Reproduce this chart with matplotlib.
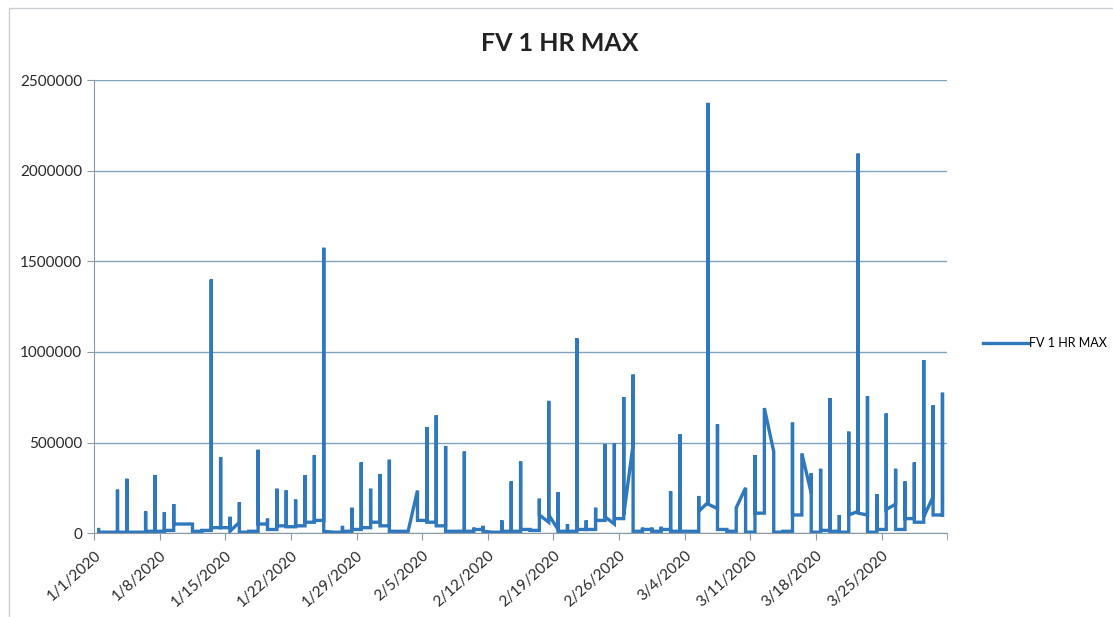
import numpy as np
import matplotlib
matplotlib.use("Agg")
import matplotlib.pyplot as plt
import matplotlib.dates as mdates
from matplotlib.patches import Rectangle

# daily readings (thousands): value entering the day, daily max, value leaving the day
start = "2020-01-01"
first_k = [20, 5, 5, 5, 5, 5, 10, 10, 15, 50, 50, 10, 15, 30, 30, 60, 5, 10, 50, 20,
           40, 35, 40, 60, 70, 5, 5, 10, 20, 30, 60, 40, 10, 10, 235, 70, 60, 40, 10, 10,
           10, 20, 5, 5, 10, 10, 20, 15, 60, 20, 10, 10, 20, 20, 70, 50, 80, 490, 10, 20,
           10, 20, 10, 10, 10, 170, 135, 20, 10, 250, 5, 110, 450, 5, 10, 100, 220, 5, 15, 10,
           5, 120, 100, 5, 20, 160, 20, 80, 60, 200, 100]
peak_k = [20, 5, 240, 300, 5, 120, 320, 115, 160, 50, 50, 10, 1400, 420, 90, 170, 5, 460, 80, 245,
          235, 185, 320, 430, 1575, 5, 40, 140, 390, 245, 325, 405, 15, 10, 235, 585, 650, 480, 10, 450,
          30, 40, 5, 70, 285, 395, 20, 190, 730, 225, 50, 1075, 70, 140, 490, 495, 750, 875, 30, 30,
          35, 230, 545, 10, 205, 2375, 600, 20, 140, 250, 430, 690, 450, 10, 610, 440, 330, 355, 745, 100,
          560, 2095, 755, 215, 660, 355, 285, 390, 955, 705, 775]
last_k = [5, 5, 5, 5, 5, 10, 10, 15, 50, 50, 10, 15, 30, 30, 10, 5, 10, 50, 20, 40,
          35, 40, 60, 70, 10, 5, 10, 20, 30, 60, 40, 10, 10, 10, 70, 60, 40, 10, 10, 10,
          20, 10, 5, 10, 10, 20, 15, 100, 100, 10, 10, 20, 20, 70, 90, 80, 100, 10, 20, 10,
          20, 10, 10, 10, 120, 160, 20, 10, 140, 5, 110, 690, 5, 10, 100, 440, 5, 15, 10, 5,
          100, 110, 5, 20, 130, 20, 80, 60, 90, 100, 100]

days = np.arange(np.datetime64(start), np.datetime64(start) + len(peak_k))
x, y = [], []
for d, a, p, b in zip(days, first_k, peak_k, last_k):
    xd = mdates.date2num(d.astype("datetime64[D]").astype(object)) + 0.5
    x += [xd, xd, xd]
    y += [a * 1000, p * 1000, b * 1000]

fig = plt.figure(figsize=(11.13, 6.17), dpi=100)
ax = fig.add_axes([0.0845, 0.136, 0.7665, 0.734])

line_col = "#2f78bd"
ax.plot(x, y, color=line_col, lw=2.4, label="FV 1 HR MAX", solid_joinstyle="miter")

ax.set_ylim(0, 2500000)
ax.set_yticks(np.arange(0, 2500001, 500000))
ax.yaxis.set_major_formatter(plt.FuncFormatter(lambda v, p: f"{int(v)}"))
ax.grid(axis="y", color="#7fa3bd", lw=1.0)
ax.set_axisbelow(True)

x0 = mdates.date2num(np.datetime64(start).astype(object))
ax.set_xlim(x0, x0 + 91)
tick_days = np.arange(np.datetime64(start), np.datetime64("2020-03-26"), 7)
ax.set_xticks([mdates.date2num(t.astype(object)) for t in tick_days])
ax.set_xticks([x0 + 91], minor=True)
labels = [f"{t.astype(object).month}/{t.astype(object).day}/2020" for t in tick_days]
ax.set_xticklabels(labels, rotation=42, ha="right", rotation_mode="anchor",
                   fontsize=11, family="Lato", color="#2a2a2a")
for lab in ax.get_yticklabels():
    lab.set_fontsize(11)
    lab.set_family("Lato")
    lab.set_color("#2a2a2a")

for s in ["top", "right"]:
    ax.spines[s].set_visible(False)
for s in ["left", "bottom"]:
    ax.spines[s].set_color("#8c9aa5")
ax.tick_params(axis="both", which="both", color="#8c9aa5", length=5, direction="out")
ax.tick_params(axis="x", pad=6)

fig.text(0.503, 0.93, "FV 1 HR MAX", ha="center", va="center",
         fontsize=18, fontweight="bold", family="Lato", color="#222222")

fig.legend(loc="center left", bbox_to_anchor=(0.874, 0.444), frameon=False,
           handlelength=3.6, handletextpad=0.1, borderpad=0.3,
           prop={"family": "Lato", "size": 9})

fig.patches.append(Rectangle((0.008, -0.05), 1.2, 1.037, transform=fig.transFigure,
                             fill=False, edgecolor="#c9ced3", lw=1.0))

fig.savefig("out.png", dpi=100)
